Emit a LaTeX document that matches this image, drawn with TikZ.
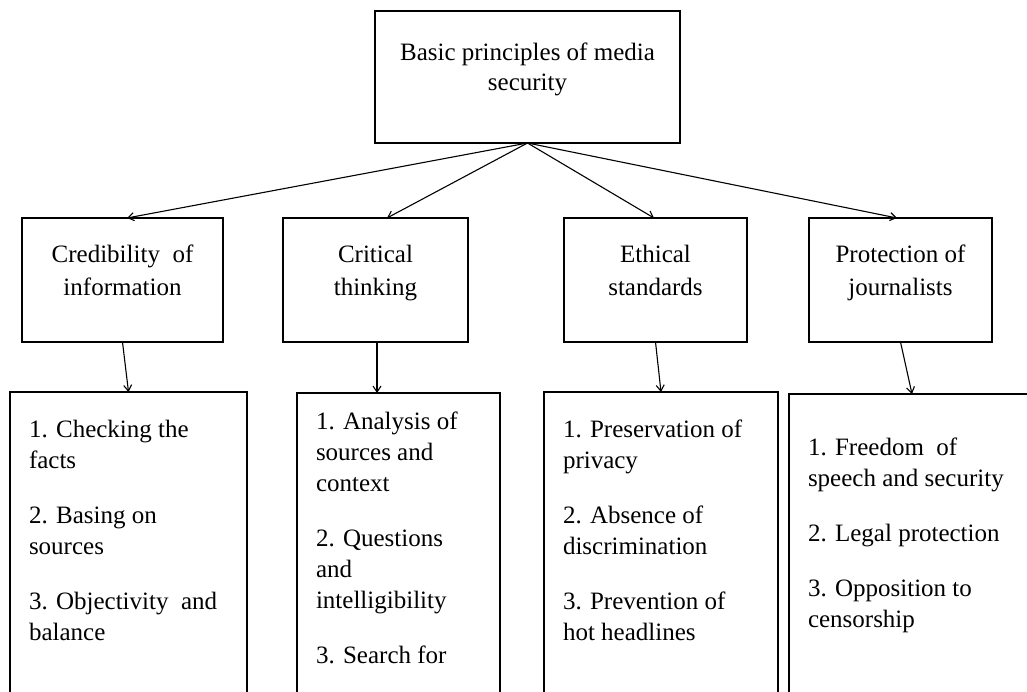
\documentclass[tikz,border=0pt]{standalone}
\usepackage{fontspec}
\setmainfont{Liberation Serif}
\usetikzlibrary{arrows.meta}
% #1 width, #2 height, #3 top skip, #4 baselineskip, #5 content
\newcommand{\mybox}[5]{\parbox[t][#2][t]{#1}{\fontsize{25}{#4}\selectfont\vspace*{#3}#5}}
\newcommand{\itemgap}{\par\vspace{24pt}}
\newcommand{\lst}{\raggedright\leftskip=19pt\relax}
\tikzset{
  box/.style={draw, line width=1.2pt, inner sep=0pt, outer sep=0pt},
  arr/.style={line width=1.1pt, -{Straight Barb[length=6pt,width=8pt]}}
}
\begin{document}
\begin{tikzpicture}[x=1pt,y=-1pt]
\useasboundingbox (0,0) rectangle (1027,691);
\fill[white] (0,0) rectangle (1027,691);
\clip (0,0) rectangle (1027,691);

\node[box] (top) at (527.5,77) {\mybox{305pt}{132pt}{28pt}{30}{\centering\strut Basic principles of media\\ security}};

\node[box] (cred) at (122.5,280) {\mybox{201pt}{124pt}{21pt}{33}{\centering\strut Credibility\ \ of\\ information}};
\node[box] (crit) at (375.5,280) {\mybox{185pt}{124pt}{21pt}{33}{\centering\strut Critical\\ thinking}};
\node[box] (eth) at (655.5,280) {\mybox{183pt}{124pt}{21pt}{33}{\centering\strut Ethical\\ standards}};
\node[box] (prot) at (900.5,280) {\mybox{183pt}{124pt}{21pt}{33}{\centering\strut Protection of\\ journalists}};

\node[box] (credl) at (128.5,576) {\mybox{237pt}{368pt}{23.3pt}{31}{\lst\strut 1. Checking the\\ facts\itemgap\strut 2. Basing on\\ sources\itemgap\strut 3. Objectivity\ \ and\\ balance}};
\node[box] (critl) at (398.5,576.5) {\mybox{203pt}{367pt}{14.3pt}{31}{\lst\strut 1. Analysis of\\ sources and\\ context\itemgap\strut 2. Questions\\ and\\ intelligibility\itemgap\strut 3. Search for}};
\node[box] (ethl) at (661,576) {\mybox{234pt}{368pt}{23.3pt}{31}{\lst\strut 1. Preservation of\\ privacy\itemgap\strut 2. Absence of\\ discrimination\itemgap\strut 3. Prevention of\\ hot headlines}};
\node[box] (protl) at (912,577) {\mybox{246pt}{366pt}{39.3pt}{31}{\lst\strut 1. Freedom\ \ of\\ speech and security\itemgap\strut 2. Legal protection\itemgap\strut 3. Opposition to\\ censorship}};

\draw[arr] (top.south) -- ([xshift=4.5pt]cred.north);
\draw[arr] (top.south) -- ([xshift=11.5pt]crit.north);
\draw[arr] (top.south) -- ([xshift=-1.5pt]eth.north);
\draw[arr] (top.south) -- ([xshift=-3.5pt]prot.north);

\draw[arr] (cred.south) -- (credl.north);
\draw[arr] ([xshift=1.5pt]crit.south) -- ([xshift=-21.5pt]critl.north);
\draw[arr] (eth.south) -- (ethl.north);
\draw[arr] (prot.south) -- (protl.north);
\end{tikzpicture}
\end{document}
